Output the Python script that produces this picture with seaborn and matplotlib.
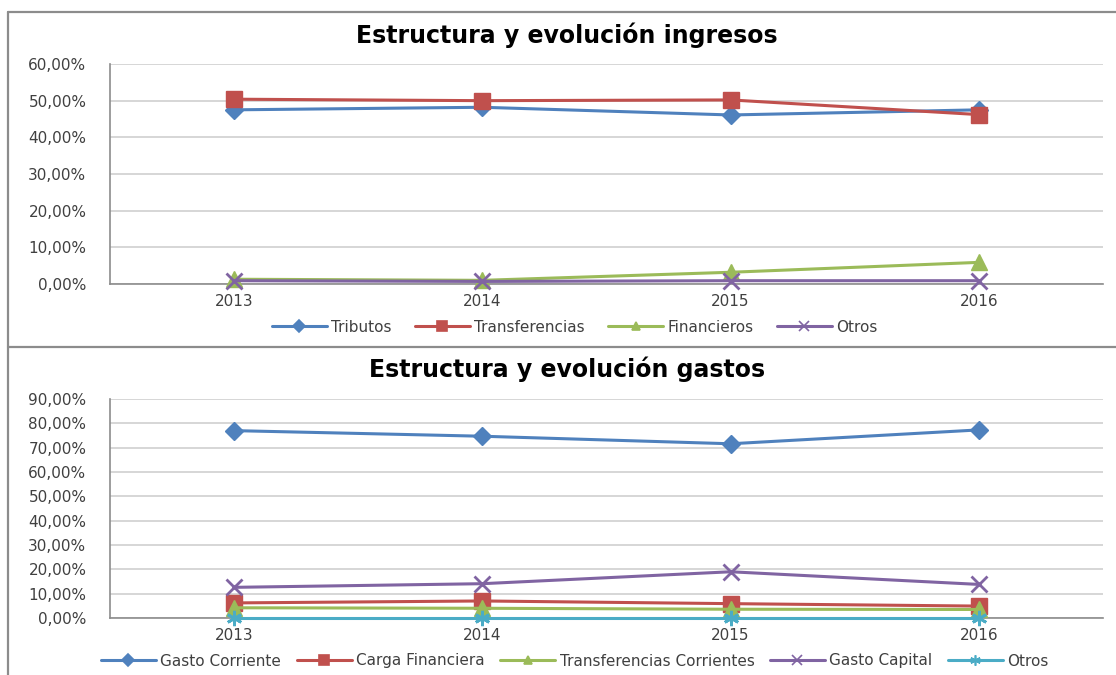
import numpy as np
import pandas as pd
import matplotlib
matplotlib.use("Agg")
import matplotlib.pyplot as plt
import seaborn as sns
from matplotlib.lines import Line2D
from matplotlib.ticker import FuncFormatter

# ==========================================================
# DATA (shares, %)
# ==========================================================
years = ["2013", "2014", "2015", "2016"]

ing_series = ["Tributos", "Transferencias", "Financieros", "Otros"]
ing_tributos = [47.5, 48.2, 46.1, 47.5]
ing_transferencias = [50.4, 50.0, 50.2, 46.2]
ing_financieros = [1.3, 1.0, 3.2, 5.9]
ing_otros = [0.9, 0.7, 0.9, 0.9]

gas_series = ["Gasto Corriente", "Carga Financiera", "Transferencias Corrientes",
              "Gasto Capital", "Otros"]
gas_corriente = [77.0, 74.7, 71.6, 77.3]
gas_carga = [6.2, 7.0, 5.9, 4.9]
gas_transf = [4.2, 4.0, 3.6, 3.5]
gas_capital = [12.6, 14.1, 19.0, 13.8]
gas_otros = [0.1, 0.1, 0.1, 0.1]

ing_ticks = [0, 10, 20, 30, 40, 50, 60]
gas_ticks = [0, 10, 20, 30, 40, 50, 60, 70, 80, 90]

# ==========================================================
# LONG TABLES
# ==========================================================
def long_table(names, columns):
    rows = []
    for name, vals in zip(names, columns):
        for i, v in enumerate(vals):
            rows.append({"serie": name, "pos": i, "valor": v})
    return pd.DataFrame(rows)

df_ing = long_table(ing_series, [ing_tributos, ing_transferencias,
                                 ing_financieros, ing_otros])
df_gas = long_table(gas_series, [gas_corriente, gas_carga, gas_transf,
                                 gas_capital, gas_otros])

BLUE, RED, GREEN, PURPLE, CYAN = "#4F81BD", "#C0504D", "#9BBB59", "#8064A2", "#4BACC6"
ASTER = (6, 2, 0)

ing_palette = {"Tributos": BLUE, "Transferencias": RED,
               "Financieros": GREEN, "Otros": PURPLE}
ing_markers = {"Tributos": "D", "Transferencias": "s",
               "Financieros": "^", "Otros": "x"}
ing_msize = {"Tributos": 9, "Transferencias": 11.5, "Financieros": 11.5, "Otros": 11}

gas_palette = {"Gasto Corriente": BLUE, "Carga Financiera": RED,
               "Transferencias Corrientes": GREEN, "Gasto Capital": PURPLE,
               "Otros": CYAN}
gas_markers = {"Gasto Corriente": "D", "Carga Financiera": "s",
               "Transferencias Corrientes": "^", "Gasto Capital": "x",
               "Otros": ASTER}
gas_msize = {"Gasto Corriente": 9, "Carga Financiera": 11.5,
             "Transferencias Corrientes": 11.5, "Gasto Capital": 11, "Otros": 11}

# ==========================================================
# STYLE
# ==========================================================
sns.set_style("white")
plt.rcParams["font.family"] = ["DejaVu Sans"]

W, H = 1116, 675
fig = plt.figure(figsize=(W / 100, H / 100), dpi=100)

GRID = "#D0D0D0"
AXIS = "#8C8C8C"
TXT = "#404040"
FS = 11


def pct(v, _):
    return f"{v:.2f}%".replace(".", ",")


def draw(ax, df, names, palette, markers, msize, ticks, title, title_y,
         legend_y, ncol, colspace):
    for name in names:
        sub = df[df["serie"] == name]
        filled = markers[name] in ("D", "s", "^")
        sns.lineplot(data=sub, x="pos", y="valor", color=palette[name],
                     marker=markers[name], markersize=msize[name],
                     markeredgewidth=1.0 if filled else 2.0,
                     markeredgecolor=palette[name], clip_on=False,
                     linewidth=2.2, legend=False, ax=ax, zorder=3)

    ax.set_xlim(-0.5, len(years) - 0.5)
    ax.set_ylim(ticks[0], ticks[-1])
    ax.set_yticks(ticks)
    ax.yaxis.set_major_formatter(FuncFormatter(pct))
    ax.set_xticks(range(len(years)))
    ax.set_xticklabels(years)
    ax.set_xticks(np.arange(-0.5, len(years), 1.0), minor=True)
    ax.tick_params(axis="x", which="major", length=0, pad=7,
                   labelsize=FS, labelcolor=TXT)
    ax.tick_params(axis="x", which="minor", length=5, color=AXIS, width=1)
    ax.tick_params(axis="y", length=7, color=AXIS, width=1, pad=10,
                   labelsize=FS, labelcolor=TXT)
    ax.yaxis.grid(True, color=GRID, linewidth=1.2)
    ax.set_axisbelow(True)
    ax.set_xlabel("")
    ax.set_ylabel("")
    for s in ("top", "right"):
        ax.spines[s].set_visible(False)
    for s in ("left", "bottom"):
        ax.spines[s].set_color(AXIS)
        ax.spines[s].set_linewidth(1.2)

    handles = [Line2D([0], [0], color=palette[n], lw=2.2,
                      marker=markers[n],
                      markersize=(6 if markers[n] in ("D", "^") else 7.5),
                      markeredgewidth=1.2,
                      markeredgecolor=palette[n], label=n)
               for n in names]
    fig.legend(handles=handles, loc="center", bbox_to_anchor=(0.515, legend_y),
               ncol=ncol, frameon=False, fontsize=FS, handlelength=3.6,
               columnspacing=colspace, handletextpad=0.3, labelcolor=TXT)
    fig.text(567 / W, title_y, title, ha="center", va="center",
             fontsize=17, fontweight="bold", color="black")


# axes in pixel coordinates
def px_axes(left, top, right, bottom):
    return fig.add_axes([left / W, 1 - bottom / H, (right - left) / W, (bottom - top) / H])


ax1 = px_axes(110, 64, 1103, 284)
ax2 = px_axes(110, 399, 1103, 618)

draw(ax1, df_ing, ing_series, ing_palette, ing_markers, ing_msize, ing_ticks,
     "Estructura y evolución ingresos", 1 - 35 / H, 1 - 327 / H, 4, 1.5)
draw(ax2, df_gas, gas_series, gas_palette, gas_markers, gas_msize, gas_ticks,
     "Estructura y evolución gastos", 1 - 369 / H, 1 - 661 / H, 5, 1.0)

# chart frames
frame = dict(color="#8C8C8C", linewidth=1.6, transform=fig.transFigure)
fig.add_artist(Line2D([8 / W, 1], [1 - 12 / H, 1 - 12 / H], **frame))
fig.add_artist(Line2D([8 / W, 1], [1 - 347 / H, 1 - 347 / H], **frame))
fig.add_artist(Line2D([8 / W, 8 / W], [0, 1 - 12 / H], **frame))

fig.savefig("out.png", dpi=100)
